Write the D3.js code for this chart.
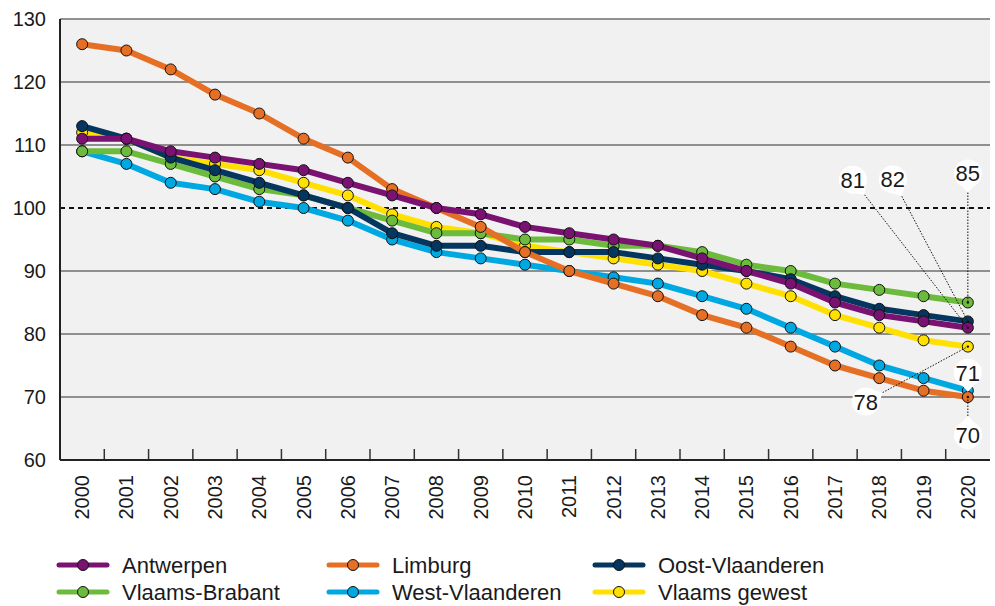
<!DOCTYPE html>
<html>
<head>
<meta charset="utf-8">
<script src="https://cdn.jsdelivr.net/npm/d3@7"></script>
<style>
  body { margin: 0; background: #fff; }
  svg text { font-family: "Liberation Sans", Arial, sans-serif; fill: #1a1a1a; }
</style>
</head>
<body>
<div id="chart"></div>
<script>
// categories
const years = ['2000','2001','2002','2003','2004','2005','2006','2007','2008','2009','2010',
  '2011','2012','2013','2014','2015','2016','2017','2018','2019','2020'];

// series values (index)
const antwerpen      = [111,111,109,108,107,106,104,102,100,99,97,96,95,94,92,90,88,85,83,82,81];
const limburg        = [126,125,122,118,115,111,108,103,100,97,93,90,88,86,83,81,78,75,73,71,70];
const oostVlaanderen = [113,111,108,106,104,102,100,96,94,94,93,93,93,92,91,90,88.7,86,84,83,82];
const vlaamsBrabant  = [109,109,107,105,103,102,100,98,96,96,95,95,94,94,93,91,90,88,87,86,85];
const westVlaanderen = [109,107,104,103,101,100,98,95,93,92,91,90,89,88,86,84,81,78,75,73,71];
const vlaamsGewest   = [112,111,108,107,106,104,102,99,97,96,94,93,92,91,90,88,86,83,81,79,78];

const yTicks = [60,70,80,90,100,110,120,130];

const series = [
  {name: 'Antwerpen', values: antwerpen, color: '#7a1271'},
  {name: 'Limburg', values: limburg, color: '#e57025'},
  {name: 'Oost-Vlaanderen', values: oostVlaanderen, color: '#05365f'},
  {name: 'Vlaams-Brabant', values: vlaamsBrabant, color: '#6cbb3c'},
  {name: 'West-Vlaanderen', values: westVlaanderen, color: '#00a8e1'},
  {name: 'Vlaams gewest', values: vlaamsGewest, color: '#ffe000'}
];
// order in which lines get painted (last one on top)
const drawOrder = ['Vlaams gewest','West-Vlaanderen','Vlaams-Brabant','Oost-Vlaanderen','Limburg','Antwerpen'];

// callouts for the 2020 values: bubble offset from the point
const callouts = [
  {name: 'Antwerpen', dx: -115, dy: -148},
  {name: 'Oost-Vlaanderen', dx: -75, dy: -142},
  {name: 'Vlaams-Brabant', dx: 0, dy: -129},
  {name: 'Vlaams gewest', dx: -102, dy: 55},
  {name: 'West-Vlaanderen', dx: 0, dy: -18},
  {name: 'Limburg', dx: 0, dy: 38}
];

const W = 995, H = 606;
const plotL = 60, plotR = 990, plotT = 19, plotB = 460;

const svg = d3.select('#chart').append('svg')
  .attr('width', W).attr('height', H);

const x = d3.scaleBand().domain(years).range([plotL, plotR]);
const cx = d => x(d) + x.bandwidth() / 2;
const y = d3.scaleLinear().domain([60, 130]).range([plotB, plotT]);

// plot background
svg.append('rect')
  .attr('x', plotL).attr('y', plotT)
  .attr('width', plotR - plotL).attr('height', plotB - plotT)
  .attr('fill', '#f1f1f1');

// gridlines
svg.append('g').selectAll('line')
  .data(yTicks.filter(t => t !== 60 && t !== 100))
  .enter().append('line')
  .attr('x1', plotL).attr('x2', plotR)
  .attr('y1', d => y(d)).attr('y2', d => y(d))
  .attr('stroke', '#6e6e6e').attr('stroke-width', 1.5);

svg.append('line')
  .attr('x1', plotL).attr('x2', plotR)
  .attr('y1', y(100)).attr('y2', y(100))
  .attr('stroke', '#111').attr('stroke-width', 2)
  .attr('stroke-dasharray', '5,4');

// y axis
const yAxis = svg.append('g')
  .attr('transform', 'translate(' + plotL + ',0)')
  .call(d3.axisLeft(y).tickValues(yTicks).tickSize(0).tickPadding(14));
yAxis.select('.domain').remove();
yAxis.selectAll('text').style('font-size', '20px').attr('fill', '#1a1a1a');

// x axis
const xAxis = svg.append('g')
  .attr('transform', 'translate(0,' + plotB + ')')
  .call(d3.axisBottom(x).tickSize(0));
xAxis.select('.domain').remove();
xAxis.selectAll('text')
  .attr('transform', 'rotate(-90)')
  .attr('x', -15).attr('y', 0).attr('dy', '0.35em')
  .style('text-anchor', 'end')
  .style('font-size', '20px')
  .attr('fill', '#1a1a1a');

// tick marks between the years
svg.append('g').selectAll('line')
  .data(years.slice(1))
  .enter().append('line')
  .attr('x1', d => x(d)).attr('x2', d => x(d))
  .attr('y1', plotB).attr('y2', plotB - 11)
  .attr('stroke', '#333').attr('stroke-width', 1.5);

// axis lines
svg.append('line')
  .attr('x1', plotL).attr('x2', plotR).attr('y1', plotB).attr('y2', plotB)
  .attr('stroke', '#222').attr('stroke-width', 2);
svg.append('line')
  .attr('x1', plotL).attr('x2', plotL).attr('y1', plotT).attr('y2', plotB)
  .attr('stroke', '#222').attr('stroke-width', 2);

// lines + markers
const line = d3.line()
  .x((d, i) => cx(years[i]))
  .y(d => y(d));

const ordered = drawOrder.map(n => series.find(s => s.name === n));

const groups = svg.append('g').selectAll('g.series')
  .data(ordered)
  .enter().append('g').attr('class', 'series');

groups.append('path')
  .attr('d', d => line(d.values))
  .attr('fill', 'none')
  .attr('stroke', d => d.color)
  .attr('stroke-width', 6)
  .attr('stroke-linejoin', 'round');

groups.selectAll('circle')
  .data(d => d.values.map(v => ({v: v, color: d.color})))
  .enter().append('circle')
  .attr('cx', (d, i) => cx(years[i]))
  .attr('cy', d => y(d.v))
  .attr('r', 5.5)
  .attr('fill', d => d.color)
  .attr('stroke', '#111')
  .attr('stroke-width', 1);

// callouts
const last = years[years.length - 1];
const r = 14;
const cg = svg.append('g');
callouts.forEach(c => {
  const s = series.find(d => d.name === c.name);
  const val = s.values[s.values.length - 1];
  const px = cx(last), py = y(val);
  const bx = px + c.dx, by = py + c.dy;
  const a = Math.atan2(py - by, px - bx);
  const tip = [bx + Math.cos(a) * (r + 5), by + Math.sin(a) * (r + 5)];

  cg.append('line')
    .attr('x1', tip[0]).attr('y1', tip[1])
    .attr('x2', px).attr('y2', py)
    .attr('stroke', '#111').attr('stroke-width', 1)
    .attr('stroke-dasharray', '1.5,1.5');
  cg.append('circle')
    .attr('cx', px).attr('cy', py).attr('r', 1.2).attr('fill', '#111');

  const p1 = [bx + Math.cos(a - 0.45) * r, by + Math.sin(a - 0.45) * r];
  const p2 = [bx + Math.cos(a + 0.45) * r, by + Math.sin(a + 0.45) * r];
  cg.append('path')
    .attr('d', 'M' + p1 + 'L' + tip + 'L' + p2 + 'Z')
    .attr('fill', '#fff');
  cg.append('circle')
    .attr('cx', bx).attr('cy', by).attr('r', r)
    .attr('fill', '#fff');
  cg.append('text')
    .attr('x', bx).attr('y', by)
    .attr('dy', '0.36em')
    .attr('text-anchor', 'middle')
    .style('font-size', '22px')
    .text(val);
});

// legend
const legendRows = [
  ['Antwerpen', 'Limburg', 'Oost-Vlaanderen'],
  ['Vlaams-Brabant', 'West-Vlaanderen', 'Vlaams gewest']
];
const colX = [57, 327, 593];
const rowY = [565, 592];
const lg = svg.append('g');
legendRows.forEach((row, ri) => {
  row.forEach((name, ci) => {
    const s = series.find(d => d.name === name);
    const g = lg.append('g').attr('transform', 'translate(' + colX[ci] + ',' + rowY[ri] + ')');
    g.append('line')
      .attr('x1', 2).attr('x2', 50).attr('y1', 0).attr('y2', 0)
      .attr('stroke', s.color).attr('stroke-width', 5)
      .attr('stroke-linecap', 'round');
    g.append('circle')
      .attr('cx', 26).attr('cy', 0).attr('r', 5.5)
      .attr('fill', s.color).attr('stroke', '#111').attr('stroke-width', 1);
    g.append('text')
      .attr('x', 65).attr('y', 0).attr('dy', '0.35em')
      .style('font-size', '22px')
      .text(name);
  });
});
</script>
</body>
</html>
